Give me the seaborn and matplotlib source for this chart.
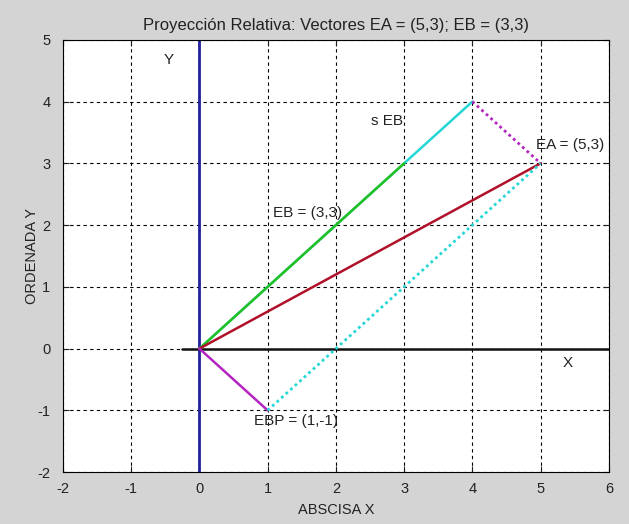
import matplotlib
matplotlib.use("Agg")
import matplotlib.pyplot as plt
import seaborn as sns
import pandas as pd

# Data
EA = (5, 3)
EB = (3, 3)
SEB = (4, 4)
EBP = (1, -1)
ORIGIN = (0, 0)
x_ticks = [-2, -1, 0, 1, 2, 3, 4, 5, 6]
y_ticks = [-2, -1, 0, 1, 2, 3, 4, 5]

sns.set_theme(style="white")
plt.rcParams['font.family'] = ['Liberation Sans', 'DejaVu Sans']
plt.rcParams['axes.unicode_minus'] = False

fig = plt.figure(figsize=(6.29, 5.24), dpi=100, facecolor="#d4d4d4")
ax = fig.add_axes([0.100, 0.099, 0.868, 0.825])
ax.set_facecolor("white")

def seg(p, q, color, ls="-", lw=1.8):
    df = pd.DataFrame({"x": [p[0], q[0]], "y": [p[1], q[1]]})
    sns.lineplot(data=df, x="x", y="y", ax=ax, color=color, linestyle=ls,
                 linewidth=lw, sort=False, estimator=None)

# grid
ax.set_xlim(-2, 6)
ax.set_ylim(-2, 5)
ax.set_xticks(x_ticks)
ax.set_yticks(y_ticks)
ax.grid(True, color="black", linestyle=(0, (3, 3)), linewidth=0.8)

# axes lines
seg((-0.25, 0), (6, 0), "#111111", lw=1.8)
seg((0, -2), (0, 5), "#22209a", lw=2.0)

# vectors
seg(ORIGIN, SEB, "#25d6d6")
seg(ORIGIN, EB, "#22c022")
seg(ORIGIN, EA, "#b01028")
seg(ORIGIN, EBP, "#b424c0")
seg(SEB, EA, "#b424c0", ls=(0, (1, 1.2)), lw=2.0)
seg(EBP, EA, "#25d6d6", ls=(0, (1, 1.2)), lw=2.0)

fs = 11
tc = "#222222"
ax.text(-0.45, 4.68, "Y", fontsize=fs, ha="center", va="center", color=tc)
ax.text(2.52, 3.68, "s EB", fontsize=fs, ha="left", va="center", color=tc)
ax.text(4.93, 3.29, "EA = (5,3)", fontsize=fs, ha="left", va="center", color=tc)
ax.text(1.08, 2.2, "EB = (3,3)", fontsize=fs, ha="left", va="center", color=tc)
ax.text(0.8, -1.18, "EBP = (1,-1)", fontsize=fs, ha="left", va="center", color=tc)
ax.text(5.4, -0.24, "X", fontsize=fs, ha="center", va="center", color=tc)

ax.set_title("Proyección Relativa: Vectores EA = (5,3); EB = (3,3)", fontsize=12,
             color=tc, pad=7)
ax.set_xlabel("ABSCISA X", fontsize=10.5, color=tc, labelpad=5)
ax.set_ylabel("ORDENADA Y", fontsize=10.5, color=tc, labelpad=-1)
ax.tick_params(axis="x", pad=7)
ax.tick_params(axis="y", pad=9)
ax.tick_params(axis="both", direction="in", length=4, labelsize=10.5, colors=tc,
               width=0.8, top=True, right=True, bottom=True, left=True)
for s in ax.spines.values():
    s.set_visible(True)
    s.set_color("black")
    s.set_linewidth(0.8)

fig.savefig("out.png", dpi=100, facecolor=fig.get_facecolor())
